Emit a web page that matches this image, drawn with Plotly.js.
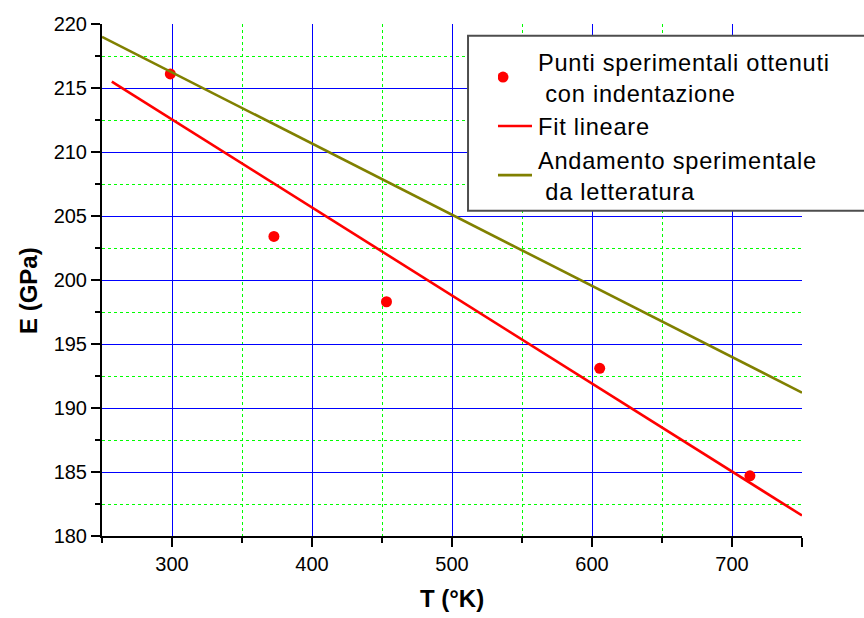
<!DOCTYPE html>
<html>
<head>
<meta charset="utf-8">
<script src="https://cdn.plot.ly/plotly-3.0.1.min.js"></script>
<style>
html,body{margin:0;padding:0;background:#fff;}
#chart{width:864px;height:618px;}
.legendtext{letter-spacing:0.75px;}
#chart .legendpoints{transform:translate(-15px,0px);}
#chart .legendlines path{transform-box:fill-box;transform-origin:0 0;transform:translate(-30px,0px) scaleX(1.967);}
</style>
</head>
<body>
<div id="chart"></div>
<script>
// Experimental points (indentation)
const T_points = [298.8, 372.8, 453.2, 605.5, 712.8];
const E_points = [216.1, 203.4, 198.3, 193.1, 184.7];
// Linear fit (end points)
const T_fit = [257, 750];
const E_fit = [215.5, 181.6];
// Literature trend
const T_lit = [250, 750];
const E_lit = [219.0, 191.2];
// Tick values and labels
const xTickVals = [300, 400, 500, 600, 700, 750];
const xTickText = ['300', '400', '500', '600', '700', ''];
const xMinor = [250, 350, 450, 550, 650];
const yTickVals = [180, 185, 190, 195, 200, 205, 210, 215, 220];
const yTickText = ['180', '185', '190', '195', '200', '205', '210', '215', '220'];
const yMinor = [182.5, 187.5, 192.5, 197.5, 202.5, 207.5, 212.5, 217.5];

const names = [
  'Punti sperimentali ottenuti\u00A0\u00A0<br>\u00A0con indentazione',
  'Fit lineare',
  'Andamento sperimentale<br>\u00A0da letteratura'
];

const FONT = 'Arial, "Liberation Sans", sans-serif';

const traces = [
  {x: T_points, y: E_points, mode: 'markers', type: 'scatter', name: names[0],
   marker: {color: '#ff0000', size: 11}},
  {x: T_fit, y: E_fit, mode: 'lines', type: 'scatter', name: names[1],
   line: {color: '#ff0000', width: 2.6}},
  {x: T_lit, y: E_lit, mode: 'lines', type: 'scatter', name: names[2],
   line: {color: '#808000', width: 2.6}}
];

const axisCommon = {
  showline: true, linecolor: '#000', linewidth: 2,
  ticks: 'outside', ticklen: 9, tickwidth: 2, tickcolor: '#000',
  showgrid: true, gridcolor: '#0000ff', gridwidth: 1,
  zeroline: false,
  tickfont: {family: FONT, size: 20, color: '#000'},
  tickmode: 'array'
};

const minorCommon = {
  tickmode: 'array', ticks: 'outside', ticklen: 5, tickwidth: 2, tickcolor: '#000',
  showgrid: true, gridcolor: '#00ff00', griddash: 'dot', gridwidth: 1
};

const layout = {
  width: 864, height: 618,
  margin: {l: 102, r: 62, t: 24, b: 82},
  paper_bgcolor: '#fff', plot_bgcolor: '#fff',
  font: {family: FONT, color: '#000'},
  showlegend: true,
  xaxis: Object.assign({}, axisCommon, {
    range: [250, 750], tickvals: xTickVals, ticktext: xTickText,
    minor: Object.assign({}, minorCommon, {tickvals: xMinor}),
    title: {text: '<b>T (°K)</b>', font: {family: FONT, size: 24, color: '#000'}, standoff: 16}
  }),
  yaxis: Object.assign({}, axisCommon, {
    range: [180, 220], tickvals: yTickVals, ticktext: yTickText,
    minor: Object.assign({}, minorCommon, {tickvals: yMinor}),
    title: {text: ''}
  }),
  annotations: [{
    text: '<b>E (GPa)</b>', textangle: -90, showarrow: false,
    xref: 'paper', yref: 'paper', x: -0.1057, y: 0.4785,
    xanchor: 'center', yanchor: 'middle',
    font: {family: FONT, size: 24, color: '#000'}
  }],
  legend: {
    x: 0.5657, y: 0.969, xanchor: 'left', yanchor: 'top',
    bgcolor: 'rgba(0,0,0,0)', borderwidth: 0,
    font: {family: FONT, size: 23.6, color: '#000'},
    tracegroupgap: 0, itemwidth: 30
  },
  shapes: [{
    type: 'rect', xref: 'paper', yref: 'paper', layer: 'above',
    x0: 0.5229, x1: 1.0914, y0: 0.6354, y1: 0.9771,
    fillcolor: '#ffffff', line: {color: '#4d4d4d', width: 2}
  }]
};

Plotly.newPlot('chart', traces, layout, {displayModeBar: false, staticPlot: true});
</script>
</body>
</html>
